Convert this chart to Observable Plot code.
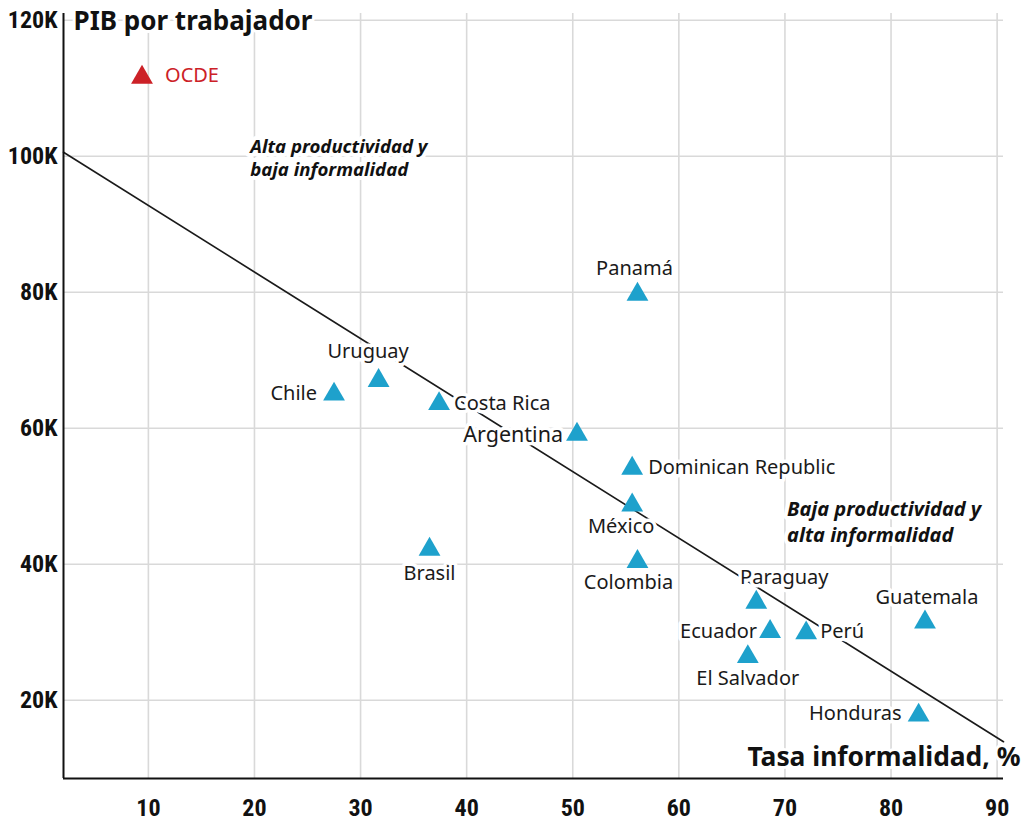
<!DOCTYPE html>
<html><head><meta charset="utf-8">
<script src="https://cdn.jsdelivr.net/npm/d3@7"></script>
<script src="https://cdn.jsdelivr.net/npm/@observablehq/plot@0.6"></script>
<style>body{margin:0;background:#fff}#chart svg{display:block}</style>
</head><body><div id="chart"></div>
<script>
// ---- data ----
const countries = ["OCDE","Chile","Uruguay","Costa Rica","Brasil","Argentina","Panamá","Dominican Republic","México","Colombia","Paraguay","Ecuador","El Salvador","Perú","Guatemala","Honduras"];
const informality = [9.4, 27.5, 31.7, 37.4, 36.5, 50.4, 56.1, 55.6, 55.6, 56.1, 67.3, 68.6, 66.5, 72.0, 83.2, 82.6];
const gdpPerWorker = [111600, 65000, 67000, 63600, 42200, 59100, 79700, 54100, 48700, 40400, 34400, 30100, 26400, 29900, 31500, 17800];
const groups = ["OCDE","AL","AL","AL","AL","AL","AL","AL","AL","AL","AL","AL","AL","AL","AL","AL"];
const xTicks = [10, 20, 30, 40, 50, 60, 70, 80, 90];
const yTicks = [20000, 40000, 60000, 80000, 100000, 120000];
const trendX = [2, 90.6];
const trendY = [100600, 13900];
const annotationTexts = ["Alta productividad y\nbaja informalidad", "Baja productividad y\nalta informalidad"];
const annotationX = [19.6, 70.2];
const annotationY = [102800, 49900];
const titleText = "PIB por trabajador";
const xLabelText = "Tasa informalidad, %";

// ---- layout (label placement per country: side, dx, dy) ----
const placement = {
  "OCDE": ["start", 23, 4.5],
  "Chile": ["end", -17, 6],
  "Uruguay": ["middle", -10.5, -23],
  "Costa Rica": ["start", 15, 6],
  "Brasil": ["middle", 0, 31],
  "Argentina": ["end", -14, 8],
  "Panamá": ["middle", -3, -19],
  "Dominican Republic": ["start", 16, 6],
  "México": ["middle", -11, 28],
  "Colombia": ["middle", -9, 27],
  "Paraguay": ["middle", 28, -18],
  "Ecuador": ["end", -13, 6],
  "El Salvador": ["middle", 0, 28],
  "Perú": ["start", 14, 5],
  "Guatemala": ["middle", 2, -18],
  "Honduras": ["end", -17, 5]
};
const colors = {OCDE: "#cc2127", AL: "#1ea1cc"};

const rows = countries.map((c, i) => ({country: c, x: informality[i], y: gdpPerWorker[i], group: groups[i]}));
const trend = trendX.map((x, i) => ({x, y: trendY[i]}));
const annotations = annotationTexts.map((t, i) => ({text: t, x: annotationX[i], y: annotationY[i]}));

const labelFont = "'Noto Sans', 'Open Sans', sans-serif";
const tickFont = "'Liberation Sans Narrow', 'Roboto Condensed', 'DejaVu Sans Condensed', sans-serif";

const labelMarks = rows.map(r => {
  const [anchor, dx, dy] = placement[r.country];
  return Plot.text([r], {
    x: "x", y: "y", text: "country",
    textAnchor: anchor, lineAnchor: "bottom", dx, dy,
    fontSize: r.country === "Argentina" ? 21.5 : 20,
    fontFamily: labelFont,
    fill: r.group === "OCDE" ? colors.OCDE : "#1a1a1a",
    stroke: "white", strokeWidth: 7
  });
});

const chart = Plot.plot({
  width: 1024,
  height: 830,
  marginLeft: 63,
  marginRight: 21,
  marginTop: 13,
  marginBottom: 52,
  style: {fontFamily: labelFont, background: "white"},
  x: {domain: [2, 90.6]},
  y: {domain: [8500, 121000]},
  marks: [
    Plot.gridX(xTicks, {stroke: "#d9d9d9", strokeWidth: 1.6, strokeOpacity: 1}),
    Plot.gridY(yTicks, {stroke: "#d9d9d9", strokeWidth: 1.6, strokeOpacity: 1}),
    Plot.axisX(xTicks, {tickSize: 0, tickPadding: 20, fontSize: 24, fontWeight: "bold", fontFamily: tickFont, fill: "#111", label: null}),
    Plot.axisY(yTicks, {tickSize: 0, tickPadding: 6, fontSize: 24, fontWeight: "bold", fontFamily: tickFont, fill: "#111", label: null, tickFormat: d => d / 1000 + "K"}),
    Plot.line(trend, {x: "x", y: "y", stroke: "#1a1a1a", strokeWidth: 1.6}),
    Plot.text(annotations.slice(0, 1), {x: "x", y: "y", text: "text", textAnchor: "start", lineAnchor: "top", fontSize: 18.6, lineHeight: 1.22, fontStyle: "italic", fontWeight: "bold", fill: "#111", stroke: "white", strokeWidth: 8, fontFamily: labelFont}),
    Plot.text(annotations.slice(1), {x: "x", y: "y", text: "text", textAnchor: "start", lineAnchor: "top", fontSize: 20, lineHeight: 1.33, fontStyle: "italic", fontWeight: "bold", fill: "#111", stroke: "white", strokeWidth: 8, fontFamily: labelFont}),
    ...labelMarks,
    Plot.dot(rows, {x: "x", y: "y", symbol: "triangle", r: 8.1, fill: d => colors[d.group], stroke: "none"}),
    Plot.ruleX([2], {stroke: "#111", strokeWidth: 2}),
    Plot.ruleY([8500], {stroke: "#111", strokeWidth: 2}),
    Plot.text([titleText], {frameAnchor: "top-left", dx: 10, dy: -2, lineAnchor: "top", textAnchor: "start", fontSize: 26, fontWeight: "bold", fill: "#111", stroke: "white", strokeWidth: 6, fontFamily: labelFont}),
    Plot.text([xLabelText], {frameAnchor: "bottom-right", dx: 17, dy: -13, lineAnchor: "bottom", textAnchor: "end", fontSize: 26.4, fontWeight: "bold", fill: "#111", stroke: "white", strokeWidth: 6, fontFamily: labelFont})
  ]
});
document.getElementById("chart").appendChild(chart);
</script>
</body></html>
